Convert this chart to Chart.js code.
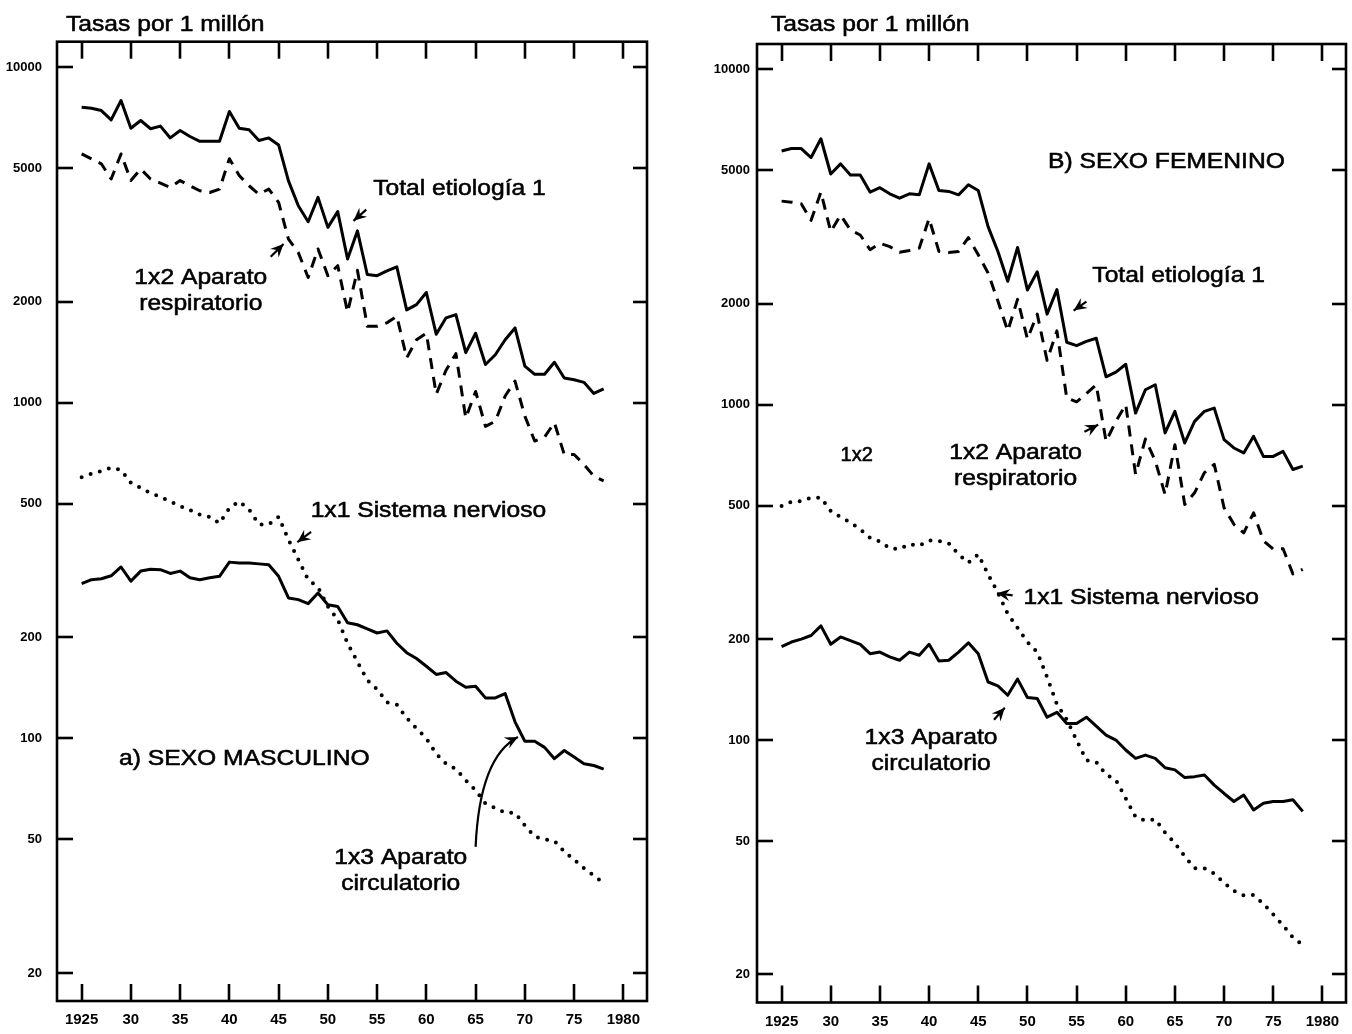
<!DOCTYPE html>
<html>
<head>
<meta charset="utf-8">
<script src="https://cdn.jsdelivr.net/npm/chart.js@4.4.1/dist/chart.umd.min.js"></script>
<style>
  html, body { margin: 0; padding: 0; background: #fff; }
  #wrap { position: relative; width: 1352px; height: 1034px; overflow: hidden; background: #fff; }
  canvas { position: absolute; top: 0; }
  #cm { left: 0; }
  #cf { left: 680px; }
</style>
</head>
<body>
<div id="wrap">
  <canvas id="cm" width="680" height="1034"></canvas>
  <canvas id="cf" width="672" height="1034"></canvas>
</div>
<script>
// Years of observation
const years = [1925,1926,1927,1928,1929,1930,1931,1932,1933,1934,
               1935,1936,1937,1938,1939,1940,1941,1942,1943,1944,
               1945,1946,1947,1948,1949,1950,1951,1952,1953,1954,
               1955,1956,1957,1958,1959,1960,1961,1962,1963,1964,
               1965,1966,1967,1968,1969,1970,1971,1972,1973,1974,
               1975,1976,1977,1978];

// Axis ticks
const xTickYears  = [1925,1930,1935,1940,1945,1950,1955,1960,1965,1970,1975,1980];
const xTickLabels = ['1925','30','35','40','45','50','55','60','65','70','75','1980'];
const yTickValues = [10000,5000,2000,1000,500,200,100,50,20];

// a) Sexo masculino — tasas por 1 millón
const menTotal = [7590,7540,7420,6960,7950,6570,6930,6550,6670,6150,
                  6470,6210,6010,6010,6010,7370,6570,6500,6040,6150,
                  5860,4580,3860,3460,4090,3330,3710,2680,3250,2410,
                  2390,2470,2540,1890,1960,2130,1600,1790,1830,1410,
                  1610,1300,1390,1540,1670,1285,1215,1215,1320,1185,
                  1170,1150,1066,1100];
const menResp  = [5510,5330,5150,4640,5510,4590,4970,4640,4510,4380,
                  4590,4430,4280,4230,4330,5330,4750,4430,4180,4330,
                  3950,3070,2800,2360,2870,2390,2560,1860,2480,1690,
                  1690,1730,1810,1360,1540,1610,1060,1250,1400,900,
                  1080,850,880,1047,1160,912,769,790,872,701,
                  701,655,604,585];
const menNerv  = [600,614,625,640,630,577,557,538,524,508,
                  492,479,464,457,437,485,508,481,434,434,
                  457,391,341,297,282,247,226,192,169,149,
                  140,128,126,115,107,100,90,84,81,75,
                  70,64,62,60,60,55,51,50,49.5,46,
                  43.5,41,39,37];
const menCirc  = [289,297,299,305,324,294,315,319,318,310,
                  315,301,297,301,304,335,333,333,331,329,
                  304,262,259,252,271,250,247,221,218,212,
                  206,209,192,180,173,164,155,157,148,142,
                  143,132,132,136,112,98,98,94,87,92,
                  88,84,83,81];

// B) Sexo femenino — tasas por 1 millón
const womenTotal = [5710,5806,5806,5458,6210,4875,5225,4840,4840,4305,
                    4438,4254,4130,4254,4224,5225,4354,4324,4224,4530,
                    4354,3397,2864,2334,2944,2198,2490,1862,2204,1535,
                    1500,1545,1578,1211,1250,1320,944,1108,1147,824,
                    955,769,892,955,977,787,743,718,805,701,
                    701,726,641,656];
const womenResp  = [4046,4018,3973,3546,4305,3281,3675,3320,3207,2897,
                    3030,2960,2850,2883,2930,3590,2865,2845,2865,3148,
                    2800,2470,2037,1660,2061,1571,1862,1356,1660,1047,
                    1020,1080,1147,778,892,1000,620,790,680,540,
                    760,504,546,627,664,493,440,415,476,393,
                    371,372,313,323];
const womenNerv  = [499,514,516,528,528,482,462,445,425,401,
                    391,373,371,384,380,394,392,386,358,338,
                    358,312,275,238,216,196,183,154,128,115,
                    100,87,86,79,76,67,59,57.5,58,53,
                    49.3,45,41.5,41.5,40,37.5,35.5,34.4,34.5,32.5,
                    30.2,28,25.8,24.5];
const womenCirc  = [190,196,200,205,219,193,203,198,193,181,
                    183,177,173,183,179,193,172,173,183,195,
                    181,149,145,136,152,134,133,117,121,112,
                    112,117,110,103.5,100,93.4,88.2,90.2,88.2,82.7,
                    81.5,77.3,77.8,78.7,73.4,69.3,65.6,68.6,61.9,64.8,
                    65.6,65.6,66.4,61.3];

const yAxisTitle = 'Tasas por 1 millón';

// Labels placed in data coordinates [year, rate]
const menNotes = [
  { lines: ['Total etiología 1'], at: [1954.6, 4330], align: 'left' },
  { lines: ['1x2 Aparato', 'respiratorio'], at: [1937.1, 2360], align: 'center' },
  { lines: ['1x1 Sistema nervioso'], at: [1948.25, 475], align: 'left' },
  { lines: ['a) SEXO MASCULINO'], at: [1928.8, 86.6], align: 'left' },
  { lines: ['1x3 Aparato', 'circulatorio'], at: [1957.4, 43.9], align: 'center' }
];
const menArrows = [
  { from: [1953.9, 3760], to: [1952.6, 3483] },
  { from: [1944.2, 2720], to: [1945.5, 2972] },
  { from: [1948.3, 412], to: [1946.9, 384] },
  { from: [1965.0, 47.5], via: [1965.4, 88], to: [1969.3, 101] }
];
const womenNotes = [
  { lines: ['B) SEXO FEMENINO'], at: [1952.1, 5310], align: 'left' },
  { lines: ['Total etiología 1'], at: [1956.6, 2415], align: 'left' },
  { lines: ['1x2'], at: [1931.0, 707], align: 'left', size: 20, sx: 1.0 },
  { lines: ['1x2 Aparato', 'respiratorio'], at: [1948.8, 718], align: 'center' },
  { lines: ['1x1 Sistema nervioso'], at: [1949.6, 266], align: 'left' },
  { lines: ['1x3 Aparato', 'circulatorio'], at: [1940.2, 101.6], align: 'center' }
];
const womenArrows = [
  { from: [1956.0, 2030], to: [1954.7, 1909] },
  { from: [1955.8, 830], to: [1957.2, 872] },
  { from: [1948.5, 270], to: [1946.9, 274] },
  { from: [1946.6, 115], to: [1947.7, 124.8] }
];

const FONT = '"Liberation Sans", Arial, Helvetica, sans-serif';
const TEXT_SX = 1.12;   // the lettering is set slightly wide

function drawLabel(ctx, str, px, py, align, size, sx) {
  ctx.save();
  ctx.font = size + 'px ' + FONT;
  ctx.textBaseline = 'middle';
  ctx.textAlign = 'left';
  const w = ctx.measureText(str).width * sx;
  const left = align === 'center' ? px - w / 2 : px;
  ctx.translate(left, py);
  ctx.scale(sx, 1);
  ctx.fillStyle = '#000';
  ctx.strokeStyle = '#000';
  ctx.lineWidth = 0.55;
  ctx.fillText(str, 0, 0);
  ctx.strokeText(str, 0, 0);
  ctx.restore();
}

function drawArrow(ctx, x0, y0, x1, y1, cx, cy) {
  ctx.save();
  ctx.strokeStyle = '#000';
  ctx.fillStyle = '#000';
  ctx.lineWidth = 2.2;
  ctx.beginPath();
  ctx.moveTo(x0, y0);
  if (cx !== undefined) ctx.quadraticCurveTo(cx, cy, x1, y1);
  else ctx.lineTo(x1, y1);
  ctx.stroke();
  const fx = cx !== undefined ? cx : x0;
  const fy = cy !== undefined ? cy : y0;
  const a = Math.atan2(y1 - fy, x1 - fx);
  const L = 13, W = 6;
  const c = Math.cos(a), s = Math.sin(a);
  ctx.beginPath();
  ctx.moveTo(x1, y1);
  ctx.lineTo(x1 - L * c + W * s, y1 - L * s - W * c);
  ctx.lineTo(x1 - L * 0.65 * c, y1 - L * 0.65 * s);
  ctx.lineTo(x1 - L * c - W * s, y1 - L * s + W * c);
  ctx.closePath();
  ctx.fill();
  ctx.restore();
}

// Draws the box, inward tick marks on all four sides, the axis caption and the notes
const framePlugin = {
  id: 'frame',
  afterDraw(chart, args, opts) {
    const { ctx, chartArea: a } = chart;
    const x = chart.scales.x, y = chart.scales.y;
    ctx.save();
    ctx.strokeStyle = '#000';
    ctx.lineWidth = 2.6;
    ctx.lineCap = 'butt';
    ctx.strokeRect(a.left, a.top, a.right - a.left, a.bottom - a.top);
    const seg = (x0, y0, x1, y1) => { ctx.beginPath(); ctx.moveTo(x0, y0); ctx.lineTo(x1, y1); ctx.stroke(); };
    x.ticks.forEach(t => {
      const px = Math.round(x.getPixelForValue(t.value));
      seg(px, a.bottom, px, a.bottom - 17);
      seg(px, a.top, px, a.top + 17);
    });
    y.ticks.forEach(t => {
      const py = Math.round(y.getPixelForValue(t.value));
      seg(a.left, py, a.left + 16, py);
      seg(a.right, py, a.right - 14, py);
    });
    ctx.restore();

    // caption above the frame
    ctx.save();
    ctx.font = '22px ' + FONT;
    ctx.textBaseline = 'alphabetic';
    ctx.fillStyle = '#000';
    ctx.strokeStyle = '#000';
    ctx.lineWidth = 0.55;
    ctx.translate(a.left + opts.captionDx, opts.captionBaseline);
    ctx.scale(TEXT_SX, 1);
    ctx.fillText(yAxisTitle, 0, 0);
    ctx.strokeText(yAxisTitle, 0, 0);
    ctx.restore();

    (opts.notes || []).forEach(n => {
      const px = x.getPixelForValue(n.at[0]);
      const py = y.getPixelForValue(n.at[1]);
      const size = n.size || 22;
      const sx = n.sx || TEXT_SX;
      n.lines.forEach((ln, i) => drawLabel(ctx, ln, px, py + i * 26, n.align, size, sx));
    });
    (opts.arrows || []).forEach(r => {
      const x0 = x.getPixelForValue(r.from[0]), y0 = y.getPixelForValue(r.from[1]);
      const x1 = x.getPixelForValue(r.to[0]), y1 = y.getPixelForValue(r.to[1]);
      if (r.via) drawArrow(ctx, x0, y0, x1, y1, x.getPixelForValue(r.via[0]), y.getPixelForValue(r.via[1]));
      else drawArrow(ctx, x0, y0, x1, y1);
    });
  }
};

const pts = vals => years.map((yr, i) => ({ x: yr, y: vals[i] }));

function makePanel(id, total, resp, nerv, circ, notes, arrows, g) {
  return new Chart(document.getElementById(id), {
    type: 'line',
    data: {
      datasets: [
        { label: 'Total etiología 1', data: pts(total), borderColor: '#000', borderWidth: 3 },
        { label: '1x2 Aparato respiratorio', data: pts(resp), borderColor: '#000', borderWidth: 3, borderDash: [11, 8] },
        { label: '1x1 Sistema nervioso', data: pts(nerv), borderColor: '#000', borderWidth: 4, borderDash: [0, 9.5], borderCapStyle: 'round' },
        { label: '1x3 Aparato circulatorio', data: pts(circ), borderColor: '#000', borderWidth: 3 }
      ]
    },
    options: {
      responsive: false,
      animation: false,
      events: [],
      layout: { padding: { left: 0, top: g.top, right: g.right, bottom: 0 } },
      elements: {
        point: { radius: 0 },
        line: { tension: 0, borderJoinStyle: 'round', fill: false }
      },
      plugins: {
        legend: { display: false },
        tooltip: { enabled: false },
        frame: { notes: notes, arrows: arrows, captionDx: g.captionDx, captionBaseline: 31 }
      },
      scales: {
        x: {
          type: 'linear',
          min: 1922.5,
          max: 1982.4,
          grid: { display: false, drawTicks: false },
          border: { display: false },
          afterBuildTicks: s => { s.ticks = xTickYears.map(v => ({ value: v })); },
          afterFit: s => { s.height = g.xh; },
          ticks: {
            autoSkip: false,
            maxRotation: 0,
            padding: 10,
            color: '#000',
            font: { family: FONT, size: 15, weight: 'bold' },
            callback: v => { const i = xTickYears.indexOf(v); return i >= 0 ? xTickLabels[i] : ''; }
          }
        },
        y: {
          type: 'logarithmic',
          min: 16.5,
          max: 11900,
          grid: { display: false, drawTicks: false },
          border: { display: false },
          afterBuildTicks: s => { s.ticks = yTickValues.map(v => ({ value: v })); },
          afterFit: s => { s.width = g.yw; },
          ticks: {
            autoSkip: false,
            padding: g.ypad,
            color: '#000',
            font: { family: FONT, size: 13, weight: 'bold' },
            callback: v => yTickValues.includes(v) ? String(v) : ''
          }
        }
      }
    },
    plugins: [framePlugin]
  });
}

makePanel('cm', menTotal, menResp, menNerv, menCirc, menNotes, menArrows,
  { top: 41.7, right: 33, xh: 33, yw: 57, ypad: 15, captionDx: 9 });
makePanel('cf', womenTotal, womenResp, womenNerv, womenCirc, womenNotes, womenArrows,
  { top: 44, right: 6, xh: 31.5, yw: 77, ypad: 7, captionDx: 14 });
</script>
</body>
</html>
